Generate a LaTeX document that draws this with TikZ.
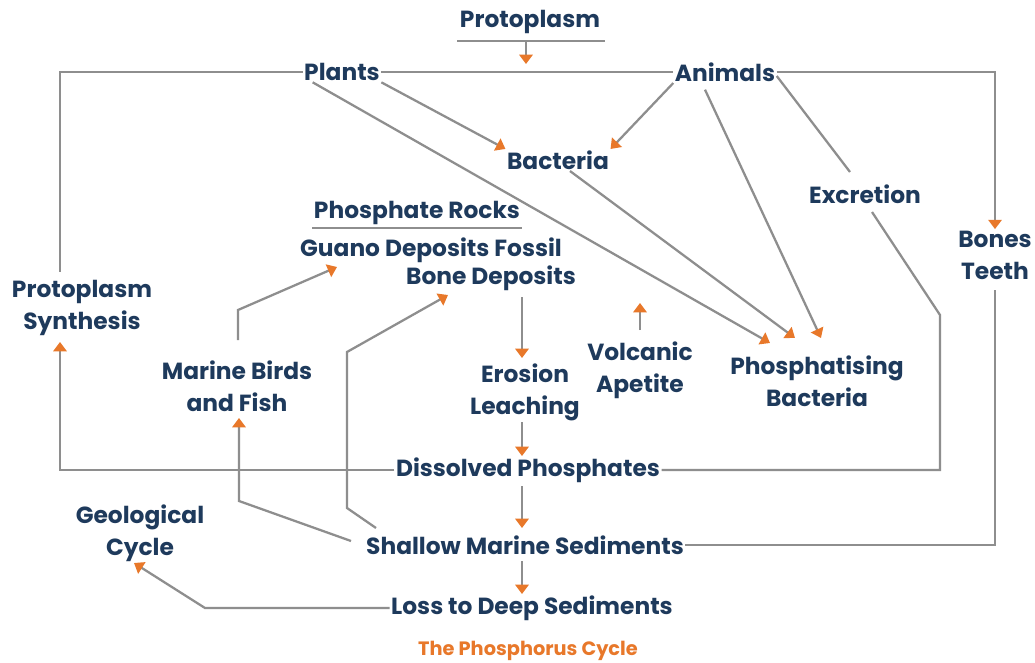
\documentclass[tikz,border=0pt]{standalone}
\usepackage{fontspec}
\setmainfont{Poppins}
\usetikzlibrary{arrows.meta}
\definecolor{navy}{HTML}{1E3A5C}
\definecolor{linegray}{HTML}{8E8E8E}
\definecolor{tipor}{HTML}{E8782A}
\tikzset{
  lbl/.style={text=navy, font=\fontsize{17.5pt}{24pt}\selectfont\bfseries, align=center, inner sep=1pt},
  link/.style={draw=linegray, line width=1.7pt},
  arr/.style={link, -{Triangle[width=10pt,length=7pt,color=tipor]}},
}
\begin{document}
\begin{tikzpicture}[x=0.75pt,y=-0.75pt]
  \useasboundingbox[fill=white] (0,0) rectangle (1035,663);
  % top row
  \node[lbl] (proto) at (530,22) {Protoplasm};
  \node[lbl] (plants) at (342,72) {Plants};
  \node[lbl] (animals) at (725,72) {Animals};
  \node[lbl] (bact) at (558,160) {Bacteria};
  \node[lbl] (excr) at (865,194) {Excretion};
  \node[lbl] (bones) at (995,255) {Bones\\Teeth};
  % middle
  \node[lbl] (rocks) at (417,213) {Phosphate Rocks};
  \node[lbl] (guano) at (431,250) {Guano Deposits Fossil};
  \node[lbl] (bonedep) at (491,278) {Bone Deposits};
  \node[lbl] (psyn) at (82,308) {Protoplasm\\Synthesis};
  \node[lbl] (birds) at (237,386) {Marine Birds\\and Fish};
  \node[lbl] (erosion) at (525,392) {Erosion\\Leaching};
  \node[lbl] (volc) at (640,370) {Volcanic\\Apetite};
  \node[lbl] (phb) at (817,381) {Phosphatising\\Bacteria};
  % bottom
  \node[lbl] (diss) at (528,470) {Dissolved Phosphates};
  \node[lbl] (shallow) at (525,545) {Shallow Marine Sediments};
  \node[lbl] (loss) at (532,608) {Loss to Deep Sediments};
  \node[lbl] (geo) at (140,533) {Geological\\Cycle};
  \node[lbl, font=\fontsize{14.5pt}{18pt}\selectfont\bfseries, text=tipor] (title) at (528,651) {The Phosphorus Cycle};

  % arrow ends and corners
  \coordinate (protoL) at (457,41);
  \coordinate (protoR) at (605,41);
  \coordinate (protoC) at (526,41);
  \coordinate (protodrop) at (526,64);
  \coordinate (rocksL) at (312,228);
  \coordinate (rocksR) at (522,228);
  \coordinate (topleft) at (60,72);
  \coordinate (psynin) at (60,272);
  \coordinate (psynup) at (60,342);
  \coordinate (topright) at (995,72);
  \coordinate (excrtop) at (850,172);
  \coordinate (excrbot) at (872,212);
  \coordinate (excrkink) at (940,315);
  \coordinate (dissR) at (940,470);
  \coordinate (dissL) at (60,470);
  \coordinate (bonesbot) at (995,290);
  \coordinate (shallowR) at (995,545);
  \coordinate (phbA) at (770,343);
  \coordinate (phbB) at (795,338);
  \coordinate (phbC) at (821,338);
  \coordinate (birdstop) at (238,340);
  \coordinate (birdsbend) at (238,310);
  \coordinate (guanoin) at (337,267);
  \coordinate (birdsbot) at (239,418);
  \coordinate (birdsfoot) at (239,501);
  \coordinate (shallowW) at (351,541);
  \coordinate (shallowNW) at (376,528);
  \coordinate (bonefoot) at (347,508);
  \coordinate (bonebend) at (347,352);
  \coordinate (bonein) at (448,295);
  \coordinate (bonedrop) at (522,297);
  \coordinate (erosionin) at (522,358);
  \coordinate (volcbase) at (640,330);
  \coordinate (volcup) at (640,303);
  \coordinate (erosionout) at (522,422);
  \coordinate (dissin) at (522,456);
  \coordinate (dissout) at (522,486);
  \coordinate (shallowin) at (522,528);
  \coordinate (shallowout) at (522,561);
  \coordinate (lossin) at (522,594);
  \coordinate (lossbend) at (205,608);
  \coordinate (geoin) at (134,563);

  % underlines
  \draw[link] (protoL) -- (protoR);
  \draw[link] (rocksL) -- (rocksR);
  \draw[arr] (protoC) -- (protodrop);

  % plants / animals
  \draw[link] (plants.east) -- (animals.west);
  \draw[link] (plants.west) -- (topleft) -- (psynin);
  \draw[arr] (animals.east) -- (topright) -- (bones.north);
  \draw[link] ([yshift=-3pt]animals.east) -- (excrtop);
  \draw[arr] (plants.south east) -- (bact.north west);
  \draw[arr] (animals.south west) -- (bact.north east);
  \draw[arr] ([xshift=-22pt]plants.south) -- (phbA);
  \draw[arr] ([xshift=9pt]bact.south) -- (phbB);
  \draw[arr] ([xshift=-15pt,yshift=-5pt]animals.south) -- (phbC);

  % rocks and marine life
  \draw[arr] (birdstop) -- (birdsbend) -- (guanoin);
  \draw[arr] (shallowNW) -- (bonefoot) -- (bonebend) -- (bonein);
  \draw[arr] (shallowW) -- (birdsfoot) -- (birdsbot);
  \draw[arr] (bonedrop) -- (erosionin);
  \draw[arr] (volcbase) -- (volcup);

  % main column
  \draw[arr] (erosionout) -- (dissin);
  \draw[arr] (dissout) -- (shallowin);
  \draw[arr] (shallowout) -- (lossin);
  \draw[arr] (loss.west) -- (lossbend) -- (geoin);

  % returns
  \draw[arr] (diss.west) -- (dissL) -- (psynup);
  \draw[link] (diss.east) -- (dissR) -- (excrkink) -- (excrbot);
  \draw[link] (shallow.east) -- (shallowR) -- (bonesbot);
\end{tikzpicture}
\end{document}
